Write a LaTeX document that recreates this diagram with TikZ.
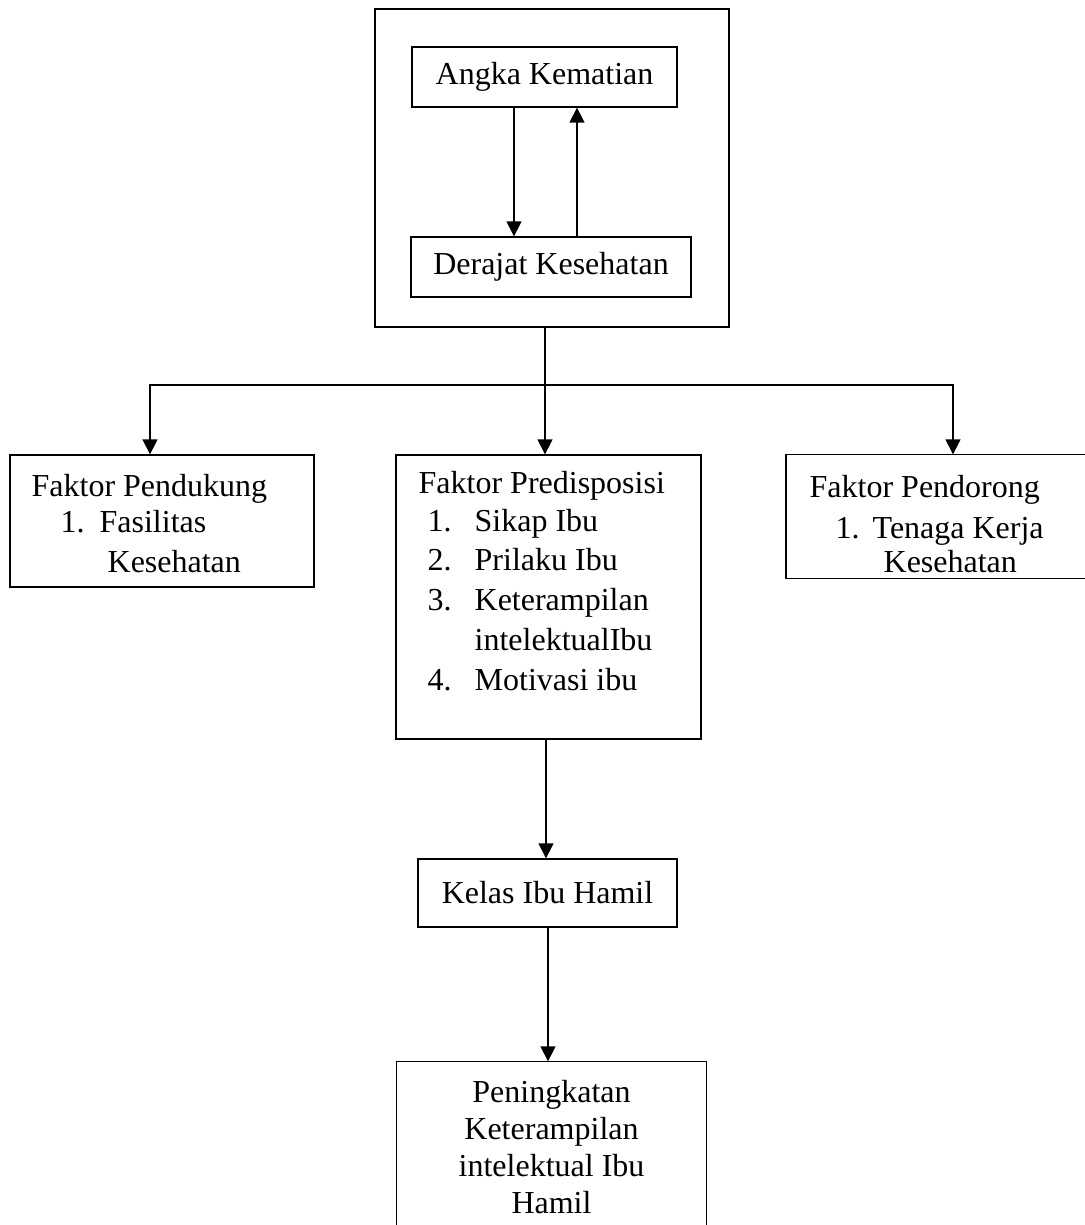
\documentclass[tikz,border=0pt]{standalone}
\usepackage{fontspec}
\setmainfont{Liberation Serif}
\usetikzlibrary{arrows.meta}
\begin{document}
\begin{tikzpicture}[x=1pt,y=-1pt,
  line width=1.3pt,
  font=\fontsize{32}{38}\selectfont,
  box/.style={draw, inner sep=0pt},
  frame/.style={inner sep=0pt},
  txt/.style={inner sep=0pt, anchor=base west},
  arr/.style={-{Triangle[width=15pt,length=15pt]}}]
\useasboundingbox (0,0) rectangle (1084,1225);
% boxes
\node[box, minimum width=354pt, minimum height=318pt] (outer) at (552,168) {};
\node[box, minimum width=265pt, minimum height=60pt] (angka) at (544.5,77) {Angka Kematian};
\node[box, minimum width=280pt, minimum height=60pt] (derajat) at (551,267) {Derajat Kesehatan};
\node[box, minimum width=304pt, minimum height=132pt] (pendukung) at (162,521) {};
\node[box, minimum width=305pt, minimum height=284pt] (predis) at (548.5,597) {};
\node[frame, minimum width=298pt, minimum height=123pt] (pendorong) at (935.5,516.5) {};
\draw (pendorong.north east) -- (pendorong.north west) -- (pendorong.south west) -- (pendorong.south east);
\node[box, minimum width=259pt, minimum height=68pt] (kelas) at (547.5,893) {Kelas Ibu Hamil};
\node[frame, minimum width=309pt, minimum height=163pt] (final) at (551.5,1143.5) {};
\draw (final.south west) -- (final.north west) -- (final.north east) -- (final.south east);
% texts
\node[txt] (t1) at (31,496) {Faktor Pendukung};
\node[txt] (t2) at (60,532) {1.};
\node[txt] (t3) at (99,532) {Fasilitas};
\node[txt] (t4) at (107,572) {Kesehatan};
\node[txt] (p0) at (418,493) {Faktor Predisposisi};
\node[txt] (pn1) at (427,531) {1.};
\node[txt] (pn2) at (427,570) {2.};
\node[txt] (pn3) at (427,610) {3.};
\node[txt] (pn4) at (427,690) {4.};
\node[txt] (p1) at (474,531) {Sikap Ibu};
\node[txt] (p2) at (474,570) {Prilaku Ibu};
\node[txt] (p3) at (474,610) {Keterampilan};
\node[txt] (p3b) at (474,650) {intelektualIbu};
\node[txt] (p4) at (474,690) {Motivasi ibu};
\node[txt] (d1) at (809,497) {Faktor Pendorong};
\node[txt] (d2) at (835,538) {1.};
\node[txt] (d3) at (872,538) {Tenaga Kerja};
\node[txt] (d4) at (883,572) {Kesehatan};
\node[inner sep=0pt, anchor=north, align=center, font=\fontsize{32}{37}\selectfont] (ft) at (551.5,1080)
  {Peningkatan\\Keterampilan\\intelektual Ibu\\Hamil};
% connectors
\coordinate (dx) at (514,0);
\coordinate (ux) at (577,0);
\coordinate (j) at (545,385);
\coordinate (pl) at (150,0);
\coordinate (pr) at (953,0);
\coordinate (kx) at (546,0);
\coordinate (fx) at (548,0);
\draw[arr] (angka.south -| dx) -- (derajat.north -| dx);
\draw[arr] (derajat.north -| ux) -- (angka.south -| ux);
\draw (outer.south -| j) -- (j);
\draw[arr] (j) -| (pendukung.north -| pl);
\draw[arr] (j) -| (pendorong.north -| pr);
\draw[arr] (j) -- (predis.north -| j);
\draw[arr] (predis.south -| kx) -- (kelas.north -| kx);
\draw[arr] (kelas.south -| fx) -- (final.north -| fx);
\end{tikzpicture}
\end{document}
